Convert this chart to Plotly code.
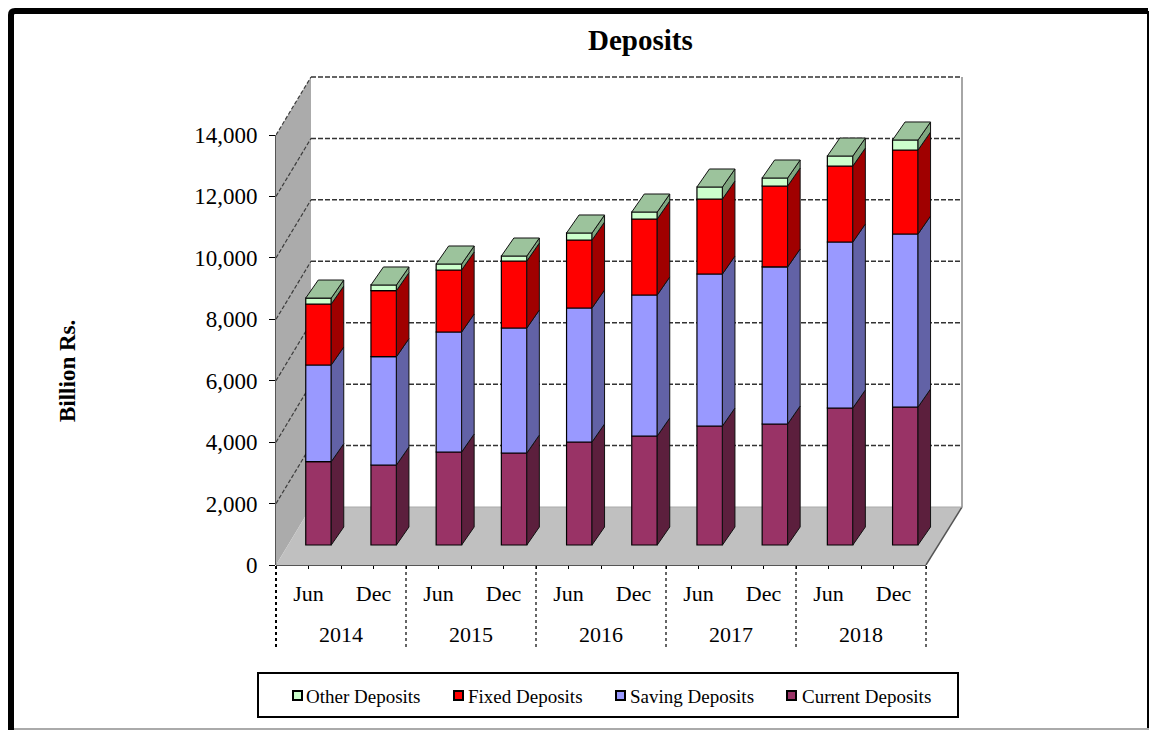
import plotly.graph_objects as go

# ---------- data ----------
months = ["Jun", "Dec"] * 5
years = ["2014", "2015", "2016", "2017", "2018"]
current_deposits = [2712, 2605, 3028, 2995, 3354, 3549, 3874, 3940, 4460, 4493]
saving_deposits = [3148, 3526, 3907, 4070, 4363, 4591, 4949, 5112, 5405, 5633]
fixed_deposits = [1986, 2149, 2019, 2181, 2214, 2474, 2442, 2637, 2474, 2735]
other_deposits = [195, 186, 195, 163, 228, 228, 391, 260, 326, 326]
series_names = ["Current Deposits", "Saving Deposits", "Fixed Deposits", "Other Deposits"]
front_colors = ["#993366", "#9999ff", "#ff0000", "#ccffcc"]
side_colors = ["#5c1f3d", "#6262a6", "#a00000", "#7fa67f"]
top_color = "#9cc39c"
y_ticks = [0, 2000, 4000, 6000, 8000, 10000, 12000, 14000]
legend_order = [3, 2, 1, 0]
legend_marker_px = [293, 454, 616, 787]
legend_text_px = [306, 468, 630, 802]

# ---------- geometry of the pseudo-3D box ----------
W, H = 1150, 730
L, R, T, B = 276, 966, 60, 565
PX_X = 65.0                # pixels per category
PX_Y = 430 / 14000         # pixels per value unit
FONT = "Liberation Serif"


def dx(px):
    return px / PX_X


def dy(px):
    return px / PX_Y


def px_x(p):
    return (p - L) / (R - L)


def px_y(p):
    return (B - p) / (B - T)


wall_l, wall_r, wall_h = dx(35), 10 + dx(36), dy(58)
bar_off_y = dy(20)
bar_w, bar_dx, bar_dy = dx(25.5), dx(12.5), dy(18)
# bars stand a little way back in the box, where the category spacing is slightly wider
centers = [i + 0.5 + dx(10 + 0.2 * i) for i in range(10)]

series = [current_deposits, saving_deposits, fixed_deposits, other_deposits]

shapes = []


def poly(xs, ys, fill):
    path = "M " + " L ".join(f"{x},{y}" for x, y in zip(xs, ys)) + " Z"
    shapes.append(dict(type="path", path=path, xref="x", yref="y", layer="below",
                       fillcolor=fill, line=dict(color="rgba(0,0,0,0)", width=0)))


def seg(x0, y0, x1, y1, color, width, dash="solid"):
    shapes.append(dict(type="line", x0=x0, y0=y0, x1=x1, y1=y1, xref="x", yref="y",
                       layer="below", line=dict(color=color, width=width, dash=dash)))


# walls and floor
poly([0, 0, wall_l, wall_l], [0, 14000, 14000 + wall_h, wall_h], "#ababab")
poly([0, 10, wall_r, wall_l], [0, 0, wall_h, wall_h], "#c0c0c0")
for v in y_ticks[1:]:
    seg(0, v, wall_l, v + wall_h, "#3c3c3c", 1.2, "4px,2px")
    seg(wall_l, v + wall_h, wall_r, v + wall_h, "#333333", 1.5, "5px,2px")
seg(wall_r, wall_h, wall_r, 14000 + wall_h, "#a6a6a6", 2)
seg(10, 0, wall_r, wall_h, "#555555", 1.5)
seg(wall_l, wall_h, wall_r, wall_h, "#aaaaaa", 1)


def pline(x0, y0, x1, y1, color, width, dash="solid", layer="above"):
    shapes.append(dict(type="line", xref="paper", yref="paper",
                       x0=px_x(x0), x1=px_x(x1), y0=px_y(y0), y1=px_y(y1), layer=layer,
                       line=dict(color=color, width=width, dash=dash)))


# axis lines stop at the front of the box
pline(276, 565, 276, 135, "#555555", 2, layer="below")
pline(276, 565, 926, 565, "#555555", 2, layer="below")

# dotted separators under the axis
for i in range(0, 11, 2):
    pline(276 + i * PX_X, 566, 276 + i * PX_X, 647, "black", 2 if i == 0 else 1.2, "dot")

# legend box
shapes.append(dict(type="rect", xref="paper", yref="paper", layer="below",
                   x0=px_x(258), x1=px_x(958), y0=px_y(673), y1=px_y(717),
                   fillcolor="white", line=dict(color="black", width=2)))
for idx, mx in zip(legend_order, legend_marker_px):
    shapes.append(dict(type="rect", xref="paper", yref="paper", layer="above",
                       x0=px_x(mx), x1=px_x(mx + 9), y0=px_y(691), y1=px_y(700),
                       fillcolor=front_colors[idx], line=dict(color="black", width=2)))

# outer frame
frame = (f"M {px_x(11)},{px_y(732)} L {px_x(11)},{px_y(15)} "
         f"Q {px_x(11)},{px_y(11)} {px_x(15)},{px_y(11)} L {px_x(1148)},{px_y(11)}")
shapes.append(dict(type="path", path=frame, xref="paper", yref="paper", layer="above",
                   line=dict(color="black", width=6)))
pline(1148, 11, 1148, 729, "black", 2)
pline(14, 729, 1149, 729, "#aaaaaa", 2)

fig = go.Figure()

# front faces: real stacked bars lifted onto the floor
bases = [bar_off_y] * 10
for name, values, color in zip(series_names, series, front_colors):
    fig.add_trace(go.Bar(x=centers, y=values, base=list(bases), width=bar_w, name=name,
                         marker=dict(color=color, line=dict(color="black", width=1.2)),
                         showlegend=False))
    bases = [b + v for b, v in zip(bases, values)]

# side faces, computed from the same values
bases = [bar_off_y] * 10
for name, values, color in zip(series_names, series, side_colors):
    xs, ys = [], []
    for c, b, v in zip(centers, bases, values):
        r = c + bar_w / 2
        xs += [r, r + bar_dx, r + bar_dx, r, r, None]
        ys += [b, b + bar_dy, b + v + bar_dy, b + v, b, None]
    fig.add_trace(go.Scatter(x=xs, y=ys, mode="lines", fill="toself", fillcolor=color,
                             line=dict(color="#111111", width=1), showlegend=False,
                             hoverinfo="skip"))
    bases = [b + v for b, v in zip(bases, values)]

# top faces
xs, ys = [], []
for c, b in zip(centers, bases):
    lft, r = c - bar_w / 2, c + bar_w / 2
    xs += [lft, r, r + bar_dx, lft + bar_dx, lft, None]
    ys += [b, b, b + bar_dy, b + bar_dy, b, None]
fig.add_trace(go.Scatter(x=xs, y=ys, mode="lines", fill="toself", fillcolor=top_color,
                         line=dict(color="#111111", width=1), showlegend=False,
                         hoverinfo="skip"))

tick_x = [i / 2 for i in range(21)]
tick_text = [months[i // 2] if i % 2 else " " for i in range(21)]

annotations = [dict(x=2 * i + 1, y=px_y(634), xref="x", yref="paper", text=y, showarrow=False,
                    yanchor="middle", font=dict(family=FONT, size=22, color="black"))
               for i, y in enumerate(years)]
annotations.append(dict(x=px_x(67), y=px_y(371), xref="paper", yref="paper",
                        text="<b>Billion Rs.</b>", textangle=-90, showarrow=False,
                        xanchor="center", yanchor="middle",
                        font=dict(family=FONT, size=23, color="black")))
annotations.append(dict(x=px_x(640), y=px_y(40), xref="paper", yref="paper",
                        text="<b>Deposits</b>", showarrow=False,
                        xanchor="center", yanchor="middle",
                        font=dict(family=FONT, size=29, color="black")))
for idx, tx in zip(legend_order, legend_text_px):
    annotations.append(dict(x=px_x(tx), y=px_y(696), xref="paper", yref="paper",
                            text=series_names[idx], showarrow=False,
                            xanchor="left", yanchor="middle", xshift=-2,
                            font=dict(family=FONT, size=19, color="black")))

fig.update_layout(
    width=W, height=H, autosize=False, showlegend=False,
    margin=dict(l=L, r=W - R, t=T, b=H - B, pad=0),
    paper_bgcolor="white", plot_bgcolor="rgba(0,0,0,0)",
    barmode="overlay", shapes=shapes, annotations=annotations,
    font=dict(family=FONT, color="black"),
    xaxis=dict(range=[0, (R - L) / PX_X], tickvals=tick_x, ticktext=tick_text,
               ticks="outside", ticklen=3, tickcolor="black", showgrid=False, zeroline=False,
               showline=False, tickangle=0, ticklabelstandoff=6,
               tickfont=dict(family=FONT, size=22, color="black")),
    yaxis=dict(range=[0, (B - T) / PX_Y], tickvals=y_ticks, tickformat=",d",
               ticks="outside", ticklen=6, tickcolor="black", showgrid=False, zeroline=False,
               showline=False, ticklabelstandoff=7,
               tickfont=dict(family=FONT, size=23, color="black")),
)

fig.write_html("out.html", config={"displayModeBar": False},
               post_script="document.body.style.margin='0';document.body.style.overflow='hidden';")
